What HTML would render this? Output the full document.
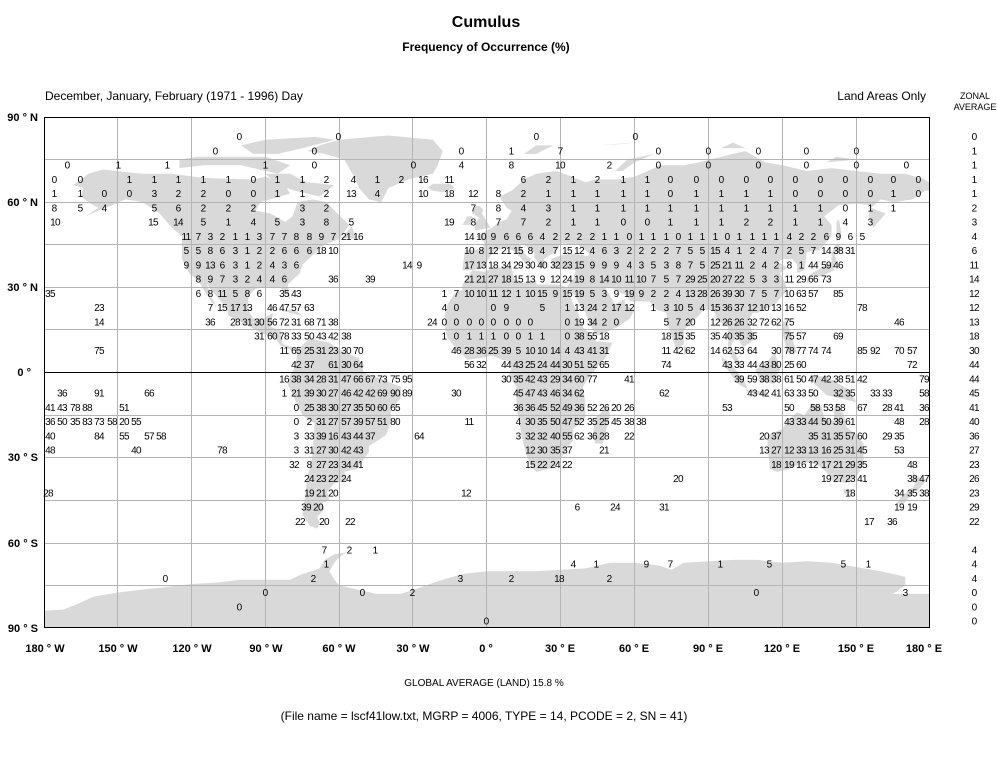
<!DOCTYPE html>
<html><head><meta charset="utf-8"><style>
html,body{margin:0;padding:0;background:#fff;}
svg{display:block;}
.t{font-family:"Liberation Sans",Arial,sans-serif;}
.n{font-family:"Liberation Sans",Arial,sans-serif;font-size:10px;letter-spacing:-0.7px;fill:#000;text-anchor:middle;}
.b{font-family:"Liberation Sans",Arial,sans-serif;font-weight:bold;font-size:11px;fill:#000;}
</style></head><body>
<svg width="997" height="760" viewBox="0 0 997 760" xmlns="http://www.w3.org/2000/svg">
<rect width="997" height="760" fill="#fff"/>
<text class="t" x="486" y="27" font-size="16" font-weight="bold" text-anchor="middle">Cumulus</text>
<text class="t" x="486" y="51" font-size="12" font-weight="bold" text-anchor="middle">Frequency of Occurrence (%)</text>
<text class="t" x="45" y="100" font-size="12">December, January, February (1971 - 1996) Day</text>
<text class="t" x="926" y="100" font-size="12" text-anchor="end">Land Areas Only</text>
<text class="t" x="975" y="99" font-size="9" text-anchor="middle">ZONAL</text>
<text class="t" x="975" y="110" font-size="9" text-anchor="middle">AVERAGE</text>
<defs><clipPath id="c"><rect x="44" y="117" width="886" height="511"/></clipPath></defs>
<g clip-path="url(#c)">
<g transform="translate(487,372.5) scale(2.4611,-2.8389)" fill="#d9d9d9" stroke="none">
<polygon points="-168,66 -162,70 -156,71.5 -140,70 -128,70 -115,68.5 -95,68 -90,69 -82,66 -80,63 -92,60 -94,57 -88,56 -82,53 -79,55 -77,60 -71,61 -65,60 -62,57 -56,52 -60,47 -66,45 -70,42 -75,38 -76,35 -81,31 -80,26 -82,28 -84,30 -89,30 -94,29.5 -97,27 -97,22 -95,19 -91,19 -87,21 -88,16 -84,15 -83,10 -79,9 -77,8 -80,8 -84,9.5 -86,12 -92,14 -96,16 -105,20 -106,23 -112,29 -114,31.5 -112.5,28 -110,23 -112,25 -115,29 -117,32 -121,35 -124,40 -124,48 -128,51 -133,56 -140,60 -147,61 -152,59 -158,57 -163,55 -158,58 -162,60 -165,62 -164,65"/>
<polygon points="-125,72 -115,73 -100,73 -95,72 -85,70 -80,73 -90,76 -100,76 -118,76 -125,75"/>
<polygon points="-90,70 -80,70 -73,67 -62,66 -68,62 -78,64 -85,66"/>
<polygon points="-95,77 -85,77 -75,79 -62,82 -70,83 -90,82 -100,80"/>
<polygon points="-73,78 -68,80 -60,82 -40,83.5 -22,82 -18,78 -20,73 -22,70 -32,68 -40,65 -43,60 -48,61 -52,65 -54,69 -58,75 -66,77"/>
<polygon points="-24,65 -22,66.5 -15,66.5 -13,65 -18,63.5 -22,64"/>
<polygon points="-59,47.5 -53,47 -55,51.5"/>
<polygon points="-85,22 -75,20 -78,22"/>
<polygon points="-80,9 -77,8 -72,12 -64,10.5 -60,8 -52,5 -50,0 -44,-2 -35,-5 -35,-9 -39,-13 -39,-17 -41,-22 -48,-26 -48,-28 -53,-34 -58,-35 -57,-38 -62,-39 -65,-42 -64,-45 -67,-46 -66,-48 -69,-51 -68,-53 -69,-55 -72,-54 -75,-50 -74,-44 -73,-37 -71,-30 -70,-18 -75,-15 -80,-6 -81,-4 -80,-1 -78,2 -77,7"/>
<polygon points="-10,36 -9,43 -2,43.5 -1,46 -4.5,48 2,51 5,53 8,54 10,57 8,58 5,62 10,64 15,68 20,70 28,71 33,69.5 40,67 44,68 53,68 60,69 68,72 70,73 80,73 86,74 100,77 105,78 113,74 120,73 130,71 140,72 150,71 160,70 170,70 178,68 181,66 181,64 178,64 173,61 165,60 160,61 156,58 162,56 157,51 155,55 156,59 150,59.5 143,59 137,55 140,52 140,48 135,43 130,42.5 129,36 126,35 126,38 124,40 121,40 118,39 122,37 119,35 121,32 122,29 117,24 110,21 108,21 106,18 109,12 107,10.5 104,9 101,13 99,9 101,6.5 104,1.5 101,3 98,8 98,16 94,18 92,22 88,22 86,20 80,15 80,10 77,8 73,18 73,21 69,22 66,25 58,25 57,27 50,30 48,30 50,27 52,24 56,26 56,24 60,22 58,19 53,16 45,13 43,15 40,21 37,25 35,28 34,27.5 32.5,30 35,33 36,36 31,36.5 27,37 26,40 29,41 34,42 41,41 41.5,42 37,45 30,45.5 29,44 27,42 23,40 24,38 22,36.7 19,41 19.5,42 15,45 13,45.5 16,41 18,40 16,38 12,42 8.5,44 3,43 0,39 -2,36.7 -6,36"/>
<polygon points="-17,21 -17,15 -16,12 -13,9 -8,4.5 -3,5 2,6 6,4.5 9,4 10,2 9,-1 12,-5 12,-12 14,-22 16,-29 18,-33 20,-35 27,-33.5 31,-29 33,-26 35,-24 35,-20 40,-16 40,-11 39,-5 42,-1 48,5 51,10.5 44,11 43,12.5 39,16 37,21 35,24 32.5,30 29,31 20,31 20,32.5 15,31.5 11,33 10,37 3,37 -1,35.5 -6,36 -10,31 -10,29 -13,28 -16,24"/>
<polygon points="44,-25 47,-25 50,-15 49,-12 44,-16 43,-22"/>
<polygon points="-5,50 1.5,51 0,53 -2,56 -1.5,57.5 -3,58.6 -5,58.5 -6,56 -3,54.5 -4.5,53 -5,51.5"/>
<polygon points="-10,52 -6,52 -6,55 -8,55"/>
<polygon points="130,31 132,34 136,34 141,36 142,40 141,42 145,43.5 142,45.5 140,42 140,39 136,37 132,35 130,33"/>
<polygon points="142,46 144,49 143,54 142,53"/>
<polygon points="95,5.5 98,4 104,-2 106,-6 102,-4 96,3"/>
<polygon points="109,1 111,-3 116,-4 119,1 117,7 113,3"/>
<polygon points="105,-6 114,-7 114,-8.5 106,-7"/>
<polygon points="131,-1 138,-1.5 147,-6 150,-10.5 143,-9 138,-8 133,-4"/>
<polygon points="120,18 122,18 124,12 126,7 122,7 120,14"/>
<polygon points="80,6 82,7.5 80,9.8"/>
<polygon points="114,-22 114,-26 115,-34 118,-35 123,-34 129,-31.5 134,-32.5 138,-35 140,-38 146,-39 150,-37 153,-32 153,-25 150,-22 146,-19 145,-15 142,-10.7 141,-13 141,-17 137,-16 136,-12 132,-11 129,-15 126,-14 122,-17 120,-20"/>
<polygon points="145,-41 148,-41 147,-43.5 145,-42.5"/>
<polygon points="172.6,-34.5 174.5,-36.5 178.5,-37.7 177,-39.5 175,-41.5 173,-41 174,-39"/>
<polygon points="172.7,-40.5 174,-41.3 171,-44.5 169,-46.5 166.5,-46 168,-44"/>
<polygon points="15,77 20,80 27,80 20,77"/>
<polygon points="52,71 57,75 68,77 60,74 55,71"/>
<polygon points="95,79 105,79 100,81"/>
<polygon points="45,80 60,81 55,80.5"/>
<polygon points="138,74 150,75 142,76"/>
<polygon points="-181,-91 -181,-84 -172,-83.5 -165,-81 -160,-79 -150,-77.5 -140,-76.5 -130,-75.5 -120,-74.5 -110,-74 -100,-73 -90,-73 -80,-73 -75,-71 -68,-69 -66,-66 -62,-64 -57,-63.3 -60,-65 -62,-67 -64,-70 -62,-73 -60,-75 -45,-78 -35,-78 -28,-76 -20,-73.5 -10,-71 0,-70 10,-70 20,-70 30,-69.5 40,-69 50,-67 60,-67 70,-68 75,-69.5 80,-67 90,-66.5 100,-66 110,-66 120,-67 130,-66.5 140,-67 150,-68.5 160,-70 165,-71 170,-72 170,-75 165,-78 172,-78 181,-78 181,-91"/>
</g>
</g>
<g stroke="#b4b4b4" stroke-width="1">
<path d="M117.5 117V628M191.5 117V628M265.5 117V628M339.5 117V628M412.5 117V628M560.5 117V628M634.5 117V628M708.5 117V628M782.5 117V628M856.5 117V628M486.5 117V628"/>
<path d="M44 159.5H930M44 202.5H930M44 244.5H930M44 287.5H930M44 329.5H930M44 415.5H930M44 457.5H930M44 500.5H930M44 543.5H930M44 585.5H930"/>
</g>
<line x1="44" y1="372.5" x2="930" y2="372.5" stroke="#000"/>
<rect x="44.5" y="117.5" width="885" height="510" fill="none" stroke="#000"/>
<text class="b" x="38" y="121" text-anchor="end">90 ° N</text>
<text class="b" x="38" y="206" text-anchor="end">60 ° N</text>
<text class="b" x="38" y="291" text-anchor="end">30 ° N</text>
<text class="b" x="31" y="376" text-anchor="end">0 °</text>
<text class="b" x="38" y="461" text-anchor="end">30 ° S</text>
<text class="b" x="38" y="547" text-anchor="end">60 ° S</text>
<text class="b" x="38" y="632" text-anchor="end">90 ° S</text>
<g class="b" text-anchor="middle">
<text x="45" y="652" text-anchor="middle">180 ° W</text>
<text x="118" y="652" text-anchor="middle">150 ° W</text>
<text x="192" y="652" text-anchor="middle">120 ° W</text>
<text x="266" y="652" text-anchor="middle">90 ° W</text>
<text x="339" y="652" text-anchor="middle">60 ° W</text>
<text x="413" y="652" text-anchor="middle">30 ° W</text>
<text x="486" y="652" text-anchor="middle">0 °</text>
<text x="560" y="652" text-anchor="middle">30 ° E</text>
<text x="634" y="652" text-anchor="middle">60 ° E</text>
<text x="708" y="652" text-anchor="middle">90 ° E</text>
<text x="782" y="652" text-anchor="middle">120 ° E</text>
<text x="856" y="652" text-anchor="middle">150 ° E</text>
<text x="924" y="652" text-anchor="middle">180 ° E</text>
</g>
<text class="t" x="484" y="686" font-size="10" text-anchor="middle">GLOBAL AVERAGE (LAND)   15.8 %</text>
<text class="t" x="484" y="720" font-size="12" text-anchor="middle">(File name = lscf41low.txt, MGRP = 4006, TYPE = 14, PCODE = 2, SN = 41)</text>

<g class="n">
<text y="140"><tspan x="239">0</tspan><tspan x="338">0</tspan><tspan x="536">0</tspan><tspan x="635">0</tspan><tspan x="974">0</tspan></text>
<text y="154.3"><tspan x="215">0</tspan><tspan x="314">0</tspan><tspan x="461">0</tspan><tspan x="511">1</tspan><tspan x="560">7</tspan><tspan x="658">0</tspan><tspan x="708">0</tspan><tspan x="758">0</tspan><tspan x="806">0</tspan><tspan x="856">0</tspan><tspan x="974">1</tspan></text>
<text y="168.5"><tspan x="67">0</tspan><tspan x="118">1</tspan><tspan x="167">1</tspan><tspan x="265">1</tspan><tspan x="314">0</tspan><tspan x="413">0</tspan><tspan x="461">4</tspan><tspan x="511">8</tspan><tspan x="560">10</tspan><tspan x="609">2</tspan><tspan x="658">0</tspan><tspan x="708">0</tspan><tspan x="758">0</tspan><tspan x="806">0</tspan><tspan x="856">0</tspan><tspan x="906">0</tspan><tspan x="974">1</tspan></text>
<text y="182.8"><tspan x="54">0</tspan><tspan x="80">0</tspan><tspan x="129">1</tspan><tspan x="154">1</tspan><tspan x="178">1</tspan><tspan x="203">1</tspan><tspan x="228">1</tspan><tspan x="253">0</tspan><tspan x="277">1</tspan><tspan x="302">1</tspan><tspan x="326">2</tspan><tspan x="353">4</tspan><tspan x="377">1</tspan><tspan x="401">2</tspan><tspan x="423">16</tspan><tspan x="449">11</tspan><tspan x="523">6</tspan><tspan x="548">2</tspan><tspan x="573">1</tspan><tspan x="597">2</tspan><tspan x="623">1</tspan><tspan x="647">1</tspan><tspan x="670">0</tspan><tspan x="696">0</tspan><tspan x="721">0</tspan><tspan x="746">0</tspan><tspan x="770">0</tspan><tspan x="795">0</tspan><tspan x="820">0</tspan><tspan x="845">0</tspan><tspan x="870">0</tspan><tspan x="893">0</tspan><tspan x="918">0</tspan><tspan x="974">1</tspan></text>
<text y="197"><tspan x="54">1</tspan><tspan x="80">1</tspan><tspan x="104">0</tspan><tspan x="129">0</tspan><tspan x="154">3</tspan><tspan x="178">2</tspan><tspan x="203">2</tspan><tspan x="228">0</tspan><tspan x="253">0</tspan><tspan x="277">1</tspan><tspan x="302">1</tspan><tspan x="326">2</tspan><tspan x="351">13</tspan><tspan x="377">4</tspan><tspan x="423">10</tspan><tspan x="449">18</tspan><tspan x="473">12</tspan><tspan x="498">8</tspan><tspan x="523">2</tspan><tspan x="548">1</tspan><tspan x="573">1</tspan><tspan x="597">1</tspan><tspan x="623">1</tspan><tspan x="647">1</tspan><tspan x="670">0</tspan><tspan x="696">1</tspan><tspan x="721">1</tspan><tspan x="746">1</tspan><tspan x="770">1</tspan><tspan x="795">0</tspan><tspan x="820">0</tspan><tspan x="845">0</tspan><tspan x="870">0</tspan><tspan x="893">1</tspan><tspan x="918">0</tspan><tspan x="974">1</tspan></text>
<text y="211.3"><tspan x="54">8</tspan><tspan x="80">5</tspan><tspan x="104">4</tspan><tspan x="154">5</tspan><tspan x="178">6</tspan><tspan x="203">2</tspan><tspan x="228">2</tspan><tspan x="253">2</tspan><tspan x="302">3</tspan><tspan x="326">2</tspan><tspan x="473">7</tspan><tspan x="498">8</tspan><tspan x="523">4</tspan><tspan x="548">3</tspan><tspan x="573">1</tspan><tspan x="597">1</tspan><tspan x="623">1</tspan><tspan x="647">1</tspan><tspan x="670">1</tspan><tspan x="696">1</tspan><tspan x="721">1</tspan><tspan x="746">1</tspan><tspan x="770">1</tspan><tspan x="795">1</tspan><tspan x="820">1</tspan><tspan x="845">0</tspan><tspan x="870">1</tspan><tspan x="893">1</tspan><tspan x="974">2</tspan></text>
<text y="225.5"><tspan x="55">10</tspan><tspan x="153">15</tspan><tspan x="178">14</tspan><tspan x="203">5</tspan><tspan x="228">1</tspan><tspan x="253">4</tspan><tspan x="277">5</tspan><tspan x="302">3</tspan><tspan x="326">8</tspan><tspan x="351">5</tspan><tspan x="449">19</tspan><tspan x="473">8</tspan><tspan x="498">7</tspan><tspan x="523">7</tspan><tspan x="548">2</tspan><tspan x="573">1</tspan><tspan x="597">1</tspan><tspan x="623">0</tspan><tspan x="647">0</tspan><tspan x="670">1</tspan><tspan x="696">1</tspan><tspan x="721">1</tspan><tspan x="746">2</tspan><tspan x="770">2</tspan><tspan x="795">1</tspan><tspan x="820">1</tspan><tspan x="845">4</tspan><tspan x="870">3</tspan><tspan x="974">3</tspan></text>
<text y="239.8"><tspan x="186">11</tspan><tspan x="198">7</tspan><tspan x="210">3</tspan><tspan x="222">2</tspan><tspan x="235">1</tspan><tspan x="247">1</tspan><tspan x="259">3</tspan><tspan x="272">7</tspan><tspan x="284">7</tspan><tspan x="296">8</tspan><tspan x="309">8</tspan><tspan x="321">9</tspan><tspan x="333">7</tspan><tspan x="346">21</tspan><tspan x="358">16</tspan><tspan x="469">14</tspan><tspan x="481">10</tspan><tspan x="493">9</tspan><tspan x="506">6</tspan><tspan x="518">6</tspan><tspan x="530">6</tspan><tspan x="542">4</tspan><tspan x="555">2</tspan><tspan x="567">2</tspan><tspan x="579">2</tspan><tspan x="592">2</tspan><tspan x="604">1</tspan><tspan x="616">1</tspan><tspan x="629">0</tspan><tspan x="641">1</tspan><tspan x="653">1</tspan><tspan x="666">1</tspan><tspan x="678">0</tspan><tspan x="690">1</tspan><tspan x="702">1</tspan><tspan x="715">1</tspan><tspan x="727">0</tspan><tspan x="739">1</tspan><tspan x="752">1</tspan><tspan x="764">1</tspan><tspan x="776">1</tspan><tspan x="789">4</tspan><tspan x="801">2</tspan><tspan x="813">2</tspan><tspan x="826">6</tspan><tspan x="838">9</tspan><tspan x="850">6</tspan><tspan x="862">5</tspan><tspan x="974">4</tspan></text>
<text y="254"><tspan x="186">5</tspan><tspan x="198">5</tspan><tspan x="210">8</tspan><tspan x="222">6</tspan><tspan x="235">3</tspan><tspan x="247">1</tspan><tspan x="259">2</tspan><tspan x="272">2</tspan><tspan x="284">6</tspan><tspan x="296">6</tspan><tspan x="309">6</tspan><tspan x="321">18</tspan><tspan x="333">10</tspan><tspan x="469">10</tspan><tspan x="481">8</tspan><tspan x="493">12</tspan><tspan x="506">21</tspan><tspan x="518">15</tspan><tspan x="530">8</tspan><tspan x="542">4</tspan><tspan x="555">7</tspan><tspan x="567">15</tspan><tspan x="579">12</tspan><tspan x="592">4</tspan><tspan x="604">6</tspan><tspan x="616">3</tspan><tspan x="629">2</tspan><tspan x="641">2</tspan><tspan x="653">2</tspan><tspan x="666">2</tspan><tspan x="678">7</tspan><tspan x="690">5</tspan><tspan x="702">5</tspan><tspan x="715">15</tspan><tspan x="727">4</tspan><tspan x="739">1</tspan><tspan x="752">2</tspan><tspan x="764">4</tspan><tspan x="776">7</tspan><tspan x="789">2</tspan><tspan x="801">5</tspan><tspan x="813">7</tspan><tspan x="826">14</tspan><tspan x="838">38</tspan><tspan x="850">31</tspan><tspan x="974">6</tspan></text>
<text y="268.3"><tspan x="186">9</tspan><tspan x="198">9</tspan><tspan x="210">13</tspan><tspan x="222">6</tspan><tspan x="235">3</tspan><tspan x="247">1</tspan><tspan x="259">2</tspan><tspan x="272">4</tspan><tspan x="284">3</tspan><tspan x="296">6</tspan><tspan x="407">14</tspan><tspan x="419">9</tspan><tspan x="469">17</tspan><tspan x="481">13</tspan><tspan x="493">18</tspan><tspan x="506">34</tspan><tspan x="518">29</tspan><tspan x="530">30</tspan><tspan x="542">40</tspan><tspan x="555">32</tspan><tspan x="567">23</tspan><tspan x="579">15</tspan><tspan x="592">9</tspan><tspan x="604">9</tspan><tspan x="616">9</tspan><tspan x="629">4</tspan><tspan x="641">3</tspan><tspan x="653">5</tspan><tspan x="666">3</tspan><tspan x="678">8</tspan><tspan x="690">7</tspan><tspan x="702">5</tspan><tspan x="715">25</tspan><tspan x="727">21</tspan><tspan x="739">11</tspan><tspan x="752">2</tspan><tspan x="764">4</tspan><tspan x="776">2</tspan><tspan x="789">8</tspan><tspan x="801">1</tspan><tspan x="813">44</tspan><tspan x="826">59</tspan><tspan x="838">46</tspan><tspan x="974">11</tspan></text>
<text y="282.5"><tspan x="198">8</tspan><tspan x="210">9</tspan><tspan x="222">7</tspan><tspan x="235">3</tspan><tspan x="247">2</tspan><tspan x="259">4</tspan><tspan x="272">4</tspan><tspan x="284">6</tspan><tspan x="333">36</tspan><tspan x="370">39</tspan><tspan x="469">21</tspan><tspan x="481">21</tspan><tspan x="493">27</tspan><tspan x="506">18</tspan><tspan x="518">15</tspan><tspan x="530">13</tspan><tspan x="542">9</tspan><tspan x="555">12</tspan><tspan x="567">24</tspan><tspan x="579">19</tspan><tspan x="592">8</tspan><tspan x="604">14</tspan><tspan x="616">10</tspan><tspan x="629">11</tspan><tspan x="641">10</tspan><tspan x="653">7</tspan><tspan x="666">5</tspan><tspan x="678">7</tspan><tspan x="690">29</tspan><tspan x="702">25</tspan><tspan x="715">20</tspan><tspan x="727">27</tspan><tspan x="739">22</tspan><tspan x="752">5</tspan><tspan x="764">3</tspan><tspan x="776">3</tspan><tspan x="789">11</tspan><tspan x="801">29</tspan><tspan x="813">66</tspan><tspan x="826">73</tspan><tspan x="974">14</tspan></text>
<text y="296.8"><tspan x="50">35</tspan><tspan x="198">6</tspan><tspan x="210">8</tspan><tspan x="222">11</tspan><tspan x="235">5</tspan><tspan x="247">8</tspan><tspan x="259">6</tspan><tspan x="284">35</tspan><tspan x="296">43</tspan><tspan x="444">1</tspan><tspan x="456">7</tspan><tspan x="469">10</tspan><tspan x="481">10</tspan><tspan x="493">11</tspan><tspan x="506">12</tspan><tspan x="518">1</tspan><tspan x="530">10</tspan><tspan x="542">15</tspan><tspan x="555">9</tspan><tspan x="567">15</tspan><tspan x="579">19</tspan><tspan x="592">5</tspan><tspan x="604">3</tspan><tspan x="616">9</tspan><tspan x="629">19</tspan><tspan x="641">9</tspan><tspan x="653">2</tspan><tspan x="666">2</tspan><tspan x="678">4</tspan><tspan x="690">13</tspan><tspan x="702">28</tspan><tspan x="715">26</tspan><tspan x="727">39</tspan><tspan x="739">30</tspan><tspan x="752">7</tspan><tspan x="764">5</tspan><tspan x="776">7</tspan><tspan x="789">10</tspan><tspan x="801">63</tspan><tspan x="813">57</tspan><tspan x="838">85</tspan><tspan x="974">12</tspan></text>
<text y="311"><tspan x="99">23</tspan><tspan x="210">7</tspan><tspan x="222">15</tspan><tspan x="235">17</tspan><tspan x="247">13</tspan><tspan x="272">46</tspan><tspan x="284">47</tspan><tspan x="296">57</tspan><tspan x="309">63</tspan><tspan x="444">4</tspan><tspan x="456">0</tspan><tspan x="493">0</tspan><tspan x="506">9</tspan><tspan x="542">5</tspan><tspan x="567">1</tspan><tspan x="579">13</tspan><tspan x="592">24</tspan><tspan x="604">2</tspan><tspan x="616">17</tspan><tspan x="629">12</tspan><tspan x="653">1</tspan><tspan x="666">3</tspan><tspan x="678">10</tspan><tspan x="690">5</tspan><tspan x="702">4</tspan><tspan x="715">15</tspan><tspan x="727">36</tspan><tspan x="739">37</tspan><tspan x="752">12</tspan><tspan x="764">10</tspan><tspan x="776">13</tspan><tspan x="789">16</tspan><tspan x="801">52</tspan><tspan x="862">78</tspan><tspan x="974">12</tspan></text>
<text y="325.3"><tspan x="99">14</tspan><tspan x="210">36</tspan><tspan x="235">28</tspan><tspan x="247">31</tspan><tspan x="259">30</tspan><tspan x="272">56</tspan><tspan x="284">72</tspan><tspan x="296">31</tspan><tspan x="309">68</tspan><tspan x="321">71</tspan><tspan x="333">38</tspan><tspan x="432">24</tspan><tspan x="444">0</tspan><tspan x="456">0</tspan><tspan x="469">0</tspan><tspan x="481">0</tspan><tspan x="493">0</tspan><tspan x="506">0</tspan><tspan x="518">0</tspan><tspan x="530">0</tspan><tspan x="567">0</tspan><tspan x="579">19</tspan><tspan x="592">34</tspan><tspan x="604">2</tspan><tspan x="616">0</tspan><tspan x="666">5</tspan><tspan x="678">7</tspan><tspan x="690">20</tspan><tspan x="715">12</tspan><tspan x="727">26</tspan><tspan x="739">26</tspan><tspan x="752">32</tspan><tspan x="764">72</tspan><tspan x="776">62</tspan><tspan x="789">75</tspan><tspan x="899">46</tspan><tspan x="974">13</tspan></text>
<text y="339.5"><tspan x="259">31</tspan><tspan x="272">60</tspan><tspan x="284">78</tspan><tspan x="296">33</tspan><tspan x="309">50</tspan><tspan x="321">43</tspan><tspan x="333">42</tspan><tspan x="346">38</tspan><tspan x="444">1</tspan><tspan x="456">0</tspan><tspan x="469">1</tspan><tspan x="481">1</tspan><tspan x="493">1</tspan><tspan x="506">0</tspan><tspan x="518">0</tspan><tspan x="530">1</tspan><tspan x="542">1</tspan><tspan x="567">0</tspan><tspan x="579">38</tspan><tspan x="592">55</tspan><tspan x="604">18</tspan><tspan x="666">18</tspan><tspan x="678">15</tspan><tspan x="690">35</tspan><tspan x="715">35</tspan><tspan x="727">40</tspan><tspan x="739">35</tspan><tspan x="752">35</tspan><tspan x="789">75</tspan><tspan x="801">57</tspan><tspan x="838">69</tspan><tspan x="974">18</tspan></text>
<text y="353.8"><tspan x="99">75</tspan><tspan x="284">11</tspan><tspan x="296">65</tspan><tspan x="309">25</tspan><tspan x="321">31</tspan><tspan x="333">23</tspan><tspan x="346">30</tspan><tspan x="358">70</tspan><tspan x="456">46</tspan><tspan x="469">28</tspan><tspan x="481">36</tspan><tspan x="493">25</tspan><tspan x="506">39</tspan><tspan x="518">5</tspan><tspan x="530">10</tspan><tspan x="542">10</tspan><tspan x="555">14</tspan><tspan x="567">4</tspan><tspan x="579">43</tspan><tspan x="592">41</tspan><tspan x="604">31</tspan><tspan x="666">11</tspan><tspan x="678">42</tspan><tspan x="690">62</tspan><tspan x="715">14</tspan><tspan x="727">62</tspan><tspan x="739">53</tspan><tspan x="752">64</tspan><tspan x="776">30</tspan><tspan x="789">78</tspan><tspan x="801">77</tspan><tspan x="813">74</tspan><tspan x="826">74</tspan><tspan x="862">85</tspan><tspan x="875">92</tspan><tspan x="899">70</tspan><tspan x="912">57</tspan><tspan x="974">30</tspan></text>
<text y="368"><tspan x="296">42</tspan><tspan x="309">37</tspan><tspan x="333">61</tspan><tspan x="346">30</tspan><tspan x="358">64</tspan><tspan x="469">56</tspan><tspan x="481">32</tspan><tspan x="506">44</tspan><tspan x="518">43</tspan><tspan x="530">25</tspan><tspan x="542">24</tspan><tspan x="555">44</tspan><tspan x="567">30</tspan><tspan x="579">51</tspan><tspan x="592">52</tspan><tspan x="604">65</tspan><tspan x="666">74</tspan><tspan x="727">43</tspan><tspan x="739">33</tspan><tspan x="752">44</tspan><tspan x="764">43</tspan><tspan x="776">80</tspan><tspan x="789">25</tspan><tspan x="801">60</tspan><tspan x="912">72</tspan><tspan x="974">44</tspan></text>
<text y="382.3"><tspan x="284">16</tspan><tspan x="296">38</tspan><tspan x="309">34</tspan><tspan x="321">28</tspan><tspan x="333">31</tspan><tspan x="346">47</tspan><tspan x="358">66</tspan><tspan x="370">67</tspan><tspan x="382">73</tspan><tspan x="395">75</tspan><tspan x="407">95</tspan><tspan x="506">30</tspan><tspan x="518">35</tspan><tspan x="530">42</tspan><tspan x="542">43</tspan><tspan x="555">29</tspan><tspan x="567">34</tspan><tspan x="579">60</tspan><tspan x="592">77</tspan><tspan x="629">41</tspan><tspan x="739">39</tspan><tspan x="752">59</tspan><tspan x="764">38</tspan><tspan x="776">38</tspan><tspan x="789">61</tspan><tspan x="801">50</tspan><tspan x="813">47</tspan><tspan x="826">42</tspan><tspan x="838">38</tspan><tspan x="850">51</tspan><tspan x="862">42</tspan><tspan x="924">79</tspan><tspan x="974">44</tspan></text>
<text y="396.5"><tspan x="62">36</tspan><tspan x="99">91</tspan><tspan x="149">66</tspan><tspan x="284">1</tspan><tspan x="296">21</tspan><tspan x="309">39</tspan><tspan x="321">30</tspan><tspan x="333">27</tspan><tspan x="346">46</tspan><tspan x="358">42</tspan><tspan x="370">42</tspan><tspan x="382">69</tspan><tspan x="395">90</tspan><tspan x="407">89</tspan><tspan x="456">30</tspan><tspan x="518">45</tspan><tspan x="530">47</tspan><tspan x="542">43</tspan><tspan x="555">46</tspan><tspan x="567">34</tspan><tspan x="579">62</tspan><tspan x="664">62</tspan><tspan x="752">43</tspan><tspan x="764">42</tspan><tspan x="776">41</tspan><tspan x="789">63</tspan><tspan x="801">33</tspan><tspan x="813">50</tspan><tspan x="838">32</tspan><tspan x="850">35</tspan><tspan x="875">33</tspan><tspan x="887">33</tspan><tspan x="924">58</tspan><tspan x="974">45</tspan></text>
<text y="410.8"><tspan x="50">41</tspan><tspan x="62">43</tspan><tspan x="75">78</tspan><tspan x="87">88</tspan><tspan x="124">51</tspan><tspan x="296">0</tspan><tspan x="309">25</tspan><tspan x="321">38</tspan><tspan x="333">30</tspan><tspan x="346">27</tspan><tspan x="358">35</tspan><tspan x="370">50</tspan><tspan x="382">60</tspan><tspan x="395">65</tspan><tspan x="518">36</tspan><tspan x="530">36</tspan><tspan x="542">45</tspan><tspan x="555">52</tspan><tspan x="567">49</tspan><tspan x="579">36</tspan><tspan x="592">52</tspan><tspan x="604">26</tspan><tspan x="616">20</tspan><tspan x="629">26</tspan><tspan x="727">53</tspan><tspan x="789">50</tspan><tspan x="815">58</tspan><tspan x="828">53</tspan><tspan x="840">58</tspan><tspan x="862">67</tspan><tspan x="887">28</tspan><tspan x="899">41</tspan><tspan x="924">36</tspan><tspan x="974">41</tspan></text>
<text y="425"><tspan x="50">36</tspan><tspan x="62">50</tspan><tspan x="75">35</tspan><tspan x="87">83</tspan><tspan x="99">73</tspan><tspan x="112">58</tspan><tspan x="124">20</tspan><tspan x="136">55</tspan><tspan x="296">0</tspan><tspan x="309">2</tspan><tspan x="321">31</tspan><tspan x="333">27</tspan><tspan x="346">57</tspan><tspan x="358">39</tspan><tspan x="370">57</tspan><tspan x="382">51</tspan><tspan x="395">80</tspan><tspan x="469">11</tspan><tspan x="518">4</tspan><tspan x="530">30</tspan><tspan x="542">35</tspan><tspan x="555">50</tspan><tspan x="567">47</tspan><tspan x="579">52</tspan><tspan x="592">35</tspan><tspan x="604">25</tspan><tspan x="616">45</tspan><tspan x="629">38</tspan><tspan x="641">38</tspan><tspan x="789">43</tspan><tspan x="801">33</tspan><tspan x="813">44</tspan><tspan x="826">50</tspan><tspan x="838">39</tspan><tspan x="850">61</tspan><tspan x="899">48</tspan><tspan x="924">28</tspan><tspan x="974">40</tspan></text>
<text y="439.3"><tspan x="50">40</tspan><tspan x="99">84</tspan><tspan x="124">55</tspan><tspan x="149">57</tspan><tspan x="161">58</tspan><tspan x="296">3</tspan><tspan x="309">33</tspan><tspan x="321">39</tspan><tspan x="333">16</tspan><tspan x="346">43</tspan><tspan x="358">44</tspan><tspan x="370">37</tspan><tspan x="419">64</tspan><tspan x="518">3</tspan><tspan x="530">32</tspan><tspan x="542">32</tspan><tspan x="555">40</tspan><tspan x="567">55</tspan><tspan x="579">62</tspan><tspan x="592">36</tspan><tspan x="604">28</tspan><tspan x="629">22</tspan><tspan x="764">20</tspan><tspan x="776">37</tspan><tspan x="813">35</tspan><tspan x="826">31</tspan><tspan x="838">35</tspan><tspan x="850">57</tspan><tspan x="862">60</tspan><tspan x="887">29</tspan><tspan x="899">35</tspan><tspan x="974">36</tspan></text>
<text y="453.5"><tspan x="50">48</tspan><tspan x="136">40</tspan><tspan x="222">78</tspan><tspan x="296">3</tspan><tspan x="309">31</tspan><tspan x="321">27</tspan><tspan x="333">30</tspan><tspan x="346">42</tspan><tspan x="358">43</tspan><tspan x="530">12</tspan><tspan x="542">30</tspan><tspan x="555">35</tspan><tspan x="567">37</tspan><tspan x="604">21</tspan><tspan x="764">13</tspan><tspan x="776">27</tspan><tspan x="789">12</tspan><tspan x="801">33</tspan><tspan x="813">13</tspan><tspan x="826">16</tspan><tspan x="838">25</tspan><tspan x="850">31</tspan><tspan x="862">45</tspan><tspan x="899">53</tspan><tspan x="974">27</tspan></text>
<text y="467.8"><tspan x="294">32</tspan><tspan x="309">8</tspan><tspan x="321">27</tspan><tspan x="333">23</tspan><tspan x="346">34</tspan><tspan x="358">41</tspan><tspan x="530">15</tspan><tspan x="542">22</tspan><tspan x="555">24</tspan><tspan x="567">22</tspan><tspan x="776">18</tspan><tspan x="789">19</tspan><tspan x="801">16</tspan><tspan x="813">12</tspan><tspan x="826">17</tspan><tspan x="838">21</tspan><tspan x="850">29</tspan><tspan x="862">35</tspan><tspan x="912">48</tspan><tspan x="974">23</tspan></text>
<text y="482"><tspan x="309">24</tspan><tspan x="321">23</tspan><tspan x="333">22</tspan><tspan x="346">24</tspan><tspan x="678">20</tspan><tspan x="826">19</tspan><tspan x="838">27</tspan><tspan x="850">23</tspan><tspan x="862">41</tspan><tspan x="912">38</tspan><tspan x="924">47</tspan><tspan x="974">26</tspan></text>
<text y="496.3"><tspan x="48">28</tspan><tspan x="309">19</tspan><tspan x="321">21</tspan><tspan x="333">20</tspan><tspan x="466">12</tspan><tspan x="850">18</tspan><tspan x="899">34</tspan><tspan x="912">35</tspan><tspan x="924">38</tspan><tspan x="974">23</tspan></text>
<text y="510.5"><tspan x="306">39</tspan><tspan x="318">20</tspan><tspan x="577">6</tspan><tspan x="615">24</tspan><tspan x="664">31</tspan><tspan x="899">19</tspan><tspan x="912">19</tspan><tspan x="974">29</tspan></text>
<text y="524.8"><tspan x="300">22</tspan><tspan x="324">20</tspan><tspan x="350">22</tspan><tspan x="869">17</tspan><tspan x="892">36</tspan><tspan x="974">22</tspan></text>
<text y="553.3"><tspan x="324">7</tspan><tspan x="349">2</tspan><tspan x="375">1</tspan><tspan x="974">4</tspan></text>
<text y="567.5"><tspan x="326">1</tspan><tspan x="573">4</tspan><tspan x="596">1</tspan><tspan x="646">9</tspan><tspan x="670">7</tspan><tspan x="720">1</tspan><tspan x="769">5</tspan><tspan x="843">5</tspan><tspan x="868">1</tspan><tspan x="974">4</tspan></text>
<text y="581.8"><tspan x="165">0</tspan><tspan x="313">2</tspan><tspan x="460">3</tspan><tspan x="511">2</tspan><tspan x="559">18</tspan><tspan x="609">2</tspan><tspan x="974">4</tspan></text>
<text y="596"><tspan x="265">0</tspan><tspan x="362">0</tspan><tspan x="412">2</tspan><tspan x="756">0</tspan><tspan x="905">3</tspan><tspan x="974">0</tspan></text>
<text y="610.3"><tspan x="239">0</tspan><tspan x="974">0</tspan></text>
<text y="624.5"><tspan x="486">0</tspan><tspan x="974">0</tspan></text>
</g>
</svg>
</body></html>
